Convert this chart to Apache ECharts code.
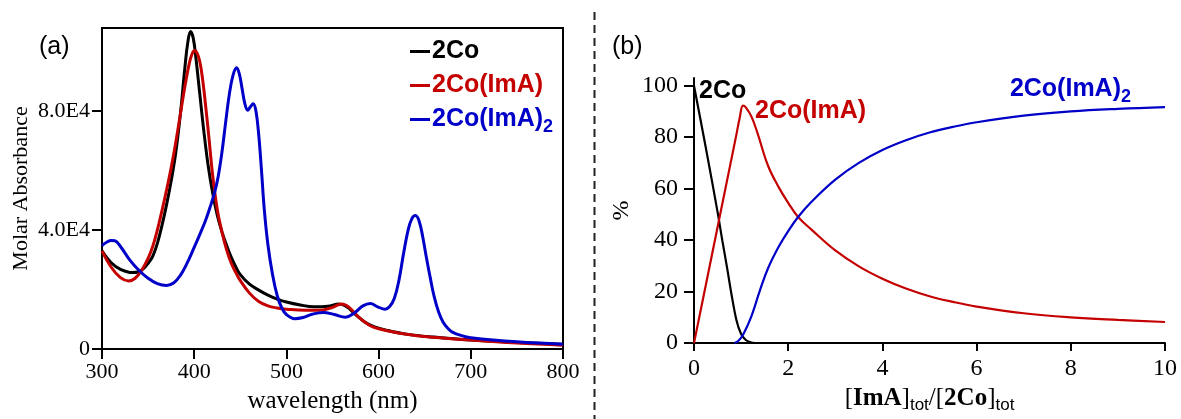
<!DOCTYPE html>
<html>
<head>
<meta charset="utf-8">
<script src="https://cdn.jsdelivr.net/npm/echarts@6/dist/echarts.min.js"></script>
<style>
html,body{margin:0;padding:0;background:#fff;}
#c{width:1181px;height:419px;}
</style>
</head>
<body>
<div id="c"></div>
<script>
// ---------- Panel (a): UV-vis spectra ----------
const wlBlack  = [300,310,320,333,340,345,350,355,360,365,370,375,380,385,390,393,396,399,402,406,410,415,420,425,430,435,440,445,450,460,470,480,490,500,515,530,545,557,565,575,585,595,610,630,660,700,750,800];
const absBlack = [33000,29000,26800,25700,26000,27000,28800,31200,35500,41500,48500,56500,66000,79000,95000,103000,106800,104500,97500,86000,74500,62000,52500,45000,39500,35000,31000,27700,25000,21800,19800,18100,16800,15800,14800,14200,14400,15100,14300,11600,9100,7500,6200,5000,4000,3000,2200,1600];

const wlRed  = [300,310,320,329,336,343,350,355,360,365,370,375,380,385,390,395,398,400.5,403,406,409,412,416,420,425,430,435,440,445,450,460,470,480,490,500,520,536,548,560,568,578,590,600,620,650,700,750,800];
const absRed = [33000,27500,24000,22900,23800,26500,30500,34500,40000,46500,53500,61000,69500,79000,88500,96500,99500,100400,99600,96800,91000,83000,71000,58500,47000,39500,33500,29000,25800,23000,18800,16000,14500,13800,13400,13000,13000,13800,15100,14000,10800,8000,6800,5500,4200,3000,2000,1300];

const wlBlue  = [300,305,310,314,320,330,340,350,360,370,378,385,392,399,406,412,417,422,426,430,434,438,442,446,449,452,455,458,461,464,467,470,473,476,480,485,490,495,500,509,518,528,540,552,564,574,583,591,599,607,612,617,622,627,632,636,640,644,648,652,656,660,665,670,675,680,690,700,750,800];
const absBlue = [34800,35900,36500,36400,34500,30000,26500,23800,22000,21400,22300,24800,28700,33500,38500,43000,47500,52500,58000,66000,76000,85500,92000,94600,92500,87500,82500,80300,81500,82500,80000,72000,60000,47000,35000,25000,18000,13800,11600,10200,10600,11700,12300,11600,10700,12200,14500,15300,14200,13400,14300,17000,23000,32000,40000,43800,44900,43000,37500,30500,24000,18000,12500,9000,7000,5700,4500,3800,2400,1600];

const absTicks = [0, 40000, 80000];
const wlTicks  = [300, 400, 500, 600, 700, 800];

// ---------- Panel (b): speciation ----------
const ratioBlack = [0,0.25,0.5,0.6,0.7,0.8,0.9,1.0,1.1,1.2,1.3];
const pctBlack   = [100,76,51,40,29.5,18.5,9,3.5,1.2,0.3,0];

const ratioRed = [0,0.25,0.5,0.75,0.9,0.97,1.04,1.1,1.22,1.35,1.57,1.8,2.0,2.21,2.5,3.0,3.5,4.0,4.5,5.0,5.5,6.0,7.0,8.0,9.0,10.0];
const pctRed   = [0,22.5,45,67.5,81,87.5,92.3,91.6,88,81.5,69,60.5,54.5,49,44,36,29.8,25,21.2,18.2,16,14.2,11.6,10,9,8.2];

const ratioBlue = [0.86,0.95,1.05,1.22,1.4,1.57,1.8,2.0,2.21,2.5,3.0,3.5,4.0,4.5,5.0,5.5,6.0,7.0,8.0,9.0,10.0];
const pctBlue   = [0,1,3.5,10.5,20.5,29,37.5,43.5,49,55,63.5,70,75,78.8,81.8,84,85.8,88.4,90,91,91.7];

const pctTicks   = [0,20,40,60,80,100];
const ratioTicks = [0,2,4,6,8,10];

const names = ['2Co', '2Co(ImA)', '2Co(ImA)2'];
const BLACK = '#000000', RED = '#c40000', BLUE = '#0000c8';

const zip = (xs, ys) => xs.map((x, i) => [x, ys[i]]);
const serif = 'Liberation Serif', sans = 'Liberation Sans';

const chart = echarts.init(document.getElementById('c'), null, {renderer: 'canvas'});

const axisCommon = {
  axisLine: {lineStyle: {color: '#000', width: 2}},
  axisTick: {show: true, inside: false, length: 10, lineStyle: {color: '#000', width: 2}},
  splitLine: {show: false},
};

chart.setOption({
  animation: false,
  backgroundColor: '#fff',
  title: [
    {text: '(a)', left: 34, top: 30, textStyle: {fontFamily: sans, fontSize: 25, fontWeight: 'normal', color: '#000'}},
    {text: '(b)', left: 607, top: 30, textStyle: {fontFamily: sans, fontSize: 25, fontWeight: 'normal', color: '#000'}}
  ],
  grid: [
    {left: 102, top: 28, width: 461, height: 324, show: true, borderColor: '#000', borderWidth: 2, backgroundColor: 'transparent'},
    {left: 694, top: 78, width: 471, height: 275}
  ],
  legend: {
    orient: 'vertical', left: 405, top: 34, itemGap: 9,
    itemWidth: 20, itemHeight: 3, icon: 'rect',
    data: [
      {name: names[0], textStyle: {color: BLACK}},
      {name: names[1], textStyle: {color: RED}},
      {name: names[2], textStyle: {color: BLUE}}
    ],
    formatter: n => n === '2Co(ImA)2' ? '{m|2Co(ImA)}{s|2}' : n,
    textStyle: {
      fontFamily: sans, fontSize: 25, fontWeight: 'bold', padding: [0,0,0,-3],
      rich: {
        m: {fontFamily: sans, fontSize: 25, fontWeight: 'bold', color: BLUE},
        s: {fontFamily: sans, fontSize: 18, fontWeight: 'bold', color: BLUE, padding: [15,0,0,0]}
      }
    },
    selectedMode: false
  },
  xAxis: [
    Object.assign({}, axisCommon, {
      gridIndex: 0, type: 'value', min: 300, max: 800, interval: 100,
      axisLabel: {fontFamily: serif, fontSize: 22, color: '#000', margin: 12, customValues: wlTicks},
      axisTick: Object.assign({}, axisCommon.axisTick, {customValues: wlTicks}),
      name: 'wavelength (nm)', nameLocation: 'middle', nameGap: 40,
      nameTextStyle: {fontFamily: serif, fontSize: 25, color: '#000'}
    }),
    Object.assign({}, axisCommon, {
      gridIndex: 1, type: 'value', min: 0, max: 10, interval: 2,
      axisLabel: {fontFamily: serif, fontSize: 24, color: '#000', margin: 14, customValues: ratioTicks},
      axisTick: Object.assign({}, axisCommon.axisTick, {length: 8, customValues: ratioTicks}),
      name: '{n|[}{b|ImA}{n|]}{s|tot}{n|/[}{b|2Co}{n|]}{s|tot}', nameLocation: 'middle', nameGap: 38,
      nameTextStyle: {
        rich: {
          n: {fontFamily: serif, fontSize: 25, color: '#000'},
          b: {fontFamily: serif, fontSize: 25, fontWeight: 'bold', color: '#000'},
          s: {fontFamily: sans, fontSize: 17, color: '#000', padding: [14,0,0,0]}
        }
      }
    })
  ],
  yAxis: [
    Object.assign({}, axisCommon, {
      gridIndex: 0, type: 'value', min: 0, max: 108000,
      axisLabel: {fontFamily: serif, fontSize: 22, color: '#000', margin: 12, customValues: absTicks,
        formatter: v => v === 0 ? '0' : (v / 10000).toFixed(1) + 'E4'},
      axisTick: Object.assign({}, axisCommon.axisTick, {customValues: absTicks}),
      name: 'Molar Absorbance', nameLocation: 'middle', nameGap: 70,
      nameTextStyle: {fontFamily: serif, fontSize: 22, color: '#000'}
    }),
    Object.assign({}, axisCommon, {
      gridIndex: 1, type: 'value', min: 0, max: 103,
      axisLabel: {fontFamily: serif, fontSize: 24, color: '#000', margin: 16, customValues: pctTicks},
      axisTick: Object.assign({}, axisCommon.axisTick, {customValues: pctTicks}),
      name: '%', nameLocation: 'middle', nameGap: 60,
      nameTextStyle: {fontFamily: serif, fontSize: 24, color: '#000'}
    })
  ],
  series: [
    {name: names[0], type: 'line', xAxisIndex: 0, yAxisIndex: 0, data: zip(wlBlack, absBlack), smooth: 0.4, showSymbol: false, lineStyle: {color: BLACK, width: 3}, itemStyle: {color: BLACK}, z: 3},
    {name: names[1], type: 'line', xAxisIndex: 0, yAxisIndex: 0, data: zip(wlRed, absRed), smooth: 0.4, showSymbol: false, lineStyle: {color: RED, width: 3}, itemStyle: {color: RED}, z: 4},
    {name: names[2], type: 'line', xAxisIndex: 0, yAxisIndex: 0, data: zip(wlBlue, absBlue), smooth: 0.4, showSymbol: false, lineStyle: {color: BLUE, width: 3}, itemStyle: {color: BLUE}, z: 5},

    {name: names[0], type: 'line', xAxisIndex: 1, yAxisIndex: 1, data: zip(ratioBlack, pctBlack), smooth: 0.3, showSymbol: false, lineStyle: {color: BLACK, width: 2.2}, itemStyle: {color: BLACK},
      markPoint: {symbol: 'circle', symbolSize: 0, data: [{coord: [ratioBlack[0], pctBlack[0]]}],
        label: {show: true, position: 'right', distance: 5, offset: [0, 5], formatter: '2Co', fontFamily: sans, fontSize: 25, fontWeight: 'bold', color: BLACK}}},
    {name: names[1], type: 'line', xAxisIndex: 1, yAxisIndex: 1, data: zip(ratioRed, pctRed), smooth: 0.4, showSymbol: false, lineStyle: {color: RED, width: 2.2}, itemStyle: {color: RED},
      markPoint: {symbol: 'circle', symbolSize: 0, data: [{coord: [1.04, 92.3]}],
        label: {show: true, position: 'right', distance: 12, offset: [0, 6], formatter: '2Co(ImA)', fontFamily: sans, fontSize: 25, fontWeight: 'bold', color: RED}}},
    {name: names[2], type: 'line', xAxisIndex: 1, yAxisIndex: 1, data: zip(ratioBlue, pctBlue), smooth: 0.4, showSymbol: false, lineStyle: {color: BLUE, width: 2.2}, itemStyle: {color: BLUE},
      markPoint: {symbol: 'circle', symbolSize: 0, data: [{coord: [ratioBlue[ratioBlue.length - 1], pctBlue[pctBlue.length - 1]]}],
        label: {show: true, position: 'left', distance: 30, offset: [-4, -18], formatter: '{m|2Co(ImA)}{s|2}',
          rich: {
            m: {fontFamily: sans, fontSize: 25, fontWeight: 'bold', color: BLUE},
            s: {fontFamily: sans, fontSize: 18, fontWeight: 'bold', color: BLUE, padding: [15,0,0,0]}
          }}}}
  ],
  graphic: [
    {type: 'line', shape: {x1: 594.5, y1: 12, x2: 594.5, y2: 419}, style: {stroke: '#222', lineWidth: 2, lineDash: [8, 5]}, silent: true}
  ]
});
</script>
</body>
</html>
